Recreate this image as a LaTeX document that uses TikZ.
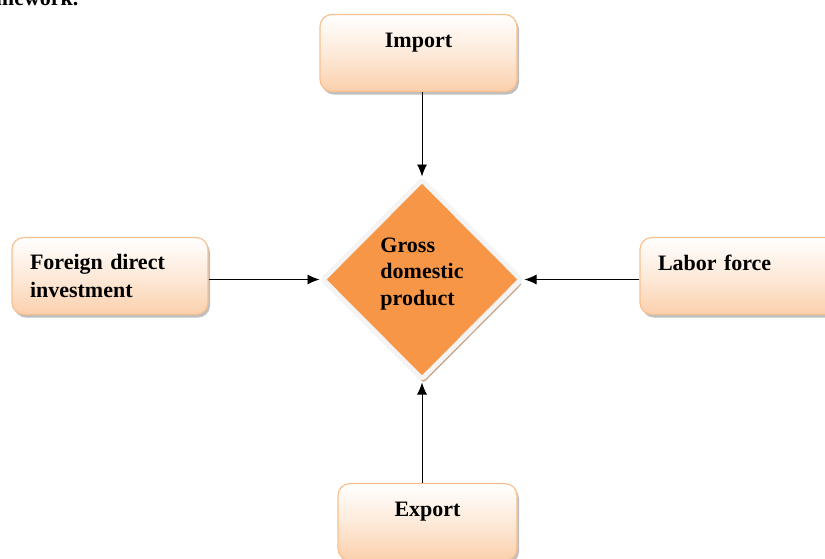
\documentclass[tikz,border=0pt]{standalone}
\usepackage{fontspec}
\setmainfont{Liberation Serif}
\usetikzlibrary{shapes.geometric,shadows,arrows.meta}
\definecolor{boxborder}{HTML}{F9C08F}
\definecolor{boxbottom}{HTML}{FBD0AC}
\definecolor{gdpfill}{HTML}{F79646}
\definecolor{gdpshadow}{HTML}{C9A585}
\definecolor{gdpedge}{HTML}{F4F4F4}
\tikzset{
  txt/.style={font=\fontsize{22}{28}\selectfont\bfseries},
  factor/.style={txt, rectangle, rounded corners=12pt, draw=boxborder, line width=1.2pt,
    top color=white, bottom color=boxbottom, middle color=white!55!boxbottom,
    drop shadow={shadow xshift=2pt, shadow yshift=-3pt, fill=black, opacity=0.25},
    minimum height=77pt},
  topalign/.style={text height=15pt, text depth=#1},
  gdpbox/.style={font=\fontsize{22}{26.5}\selectfont\bfseries, diamond, aspect=1, fill=gdpfill, draw=gdpedge, line width=5pt,
    rounded corners=3pt,
    minimum width=200pt, minimum height=201pt, inner sep=0pt,
    drop shadow={shadow xshift=1.5pt, shadow yshift=-4pt, fill=gdpshadow, opacity=1}},
  arr/.style={-{Latex[length=12pt,width=10pt]}, line width=0.9pt, black}
}
\begin{document}
\begin{tikzpicture}[x=1pt,y=-1pt]
\useasboundingbox (0,0) rectangle (825,558);
\node[txt, anchor=base east] (cap) at (82,5) {framework.};
\node[factor, minimum width=197pt, topalign=26pt] (imp) at (418.5,53) {Import};
\node[factor, minimum width=195pt, text width=160pt, align=left, inner xsep=18pt] (fdi) at (110,276) {Foreign direct\\investment};
\node[factor, minimum width=200pt, topalign=26pt, text width=164pt, align=left, inner xsep=18pt] (lab) at (740,276) {Labor force};
\node[factor, minimum width=179pt, topalign=27pt] (exp) at (427.5,522) {Export};
\node[gdpbox, align=left, text depth=16pt] (gdp) at (422,279.5) {Gross\\domestic\\product};
\draw[arr] (gdp.north |- imp.south) -- (gdp.north);
\draw[arr] (gdp.south |- exp.north) -- (gdp.south);
\draw[arr] (fdi.east |- gdp.west) -- (gdp.west);
\draw[arr] (lab.west |- gdp.east) -- (gdp.east);
\end{tikzpicture}
\end{document}
